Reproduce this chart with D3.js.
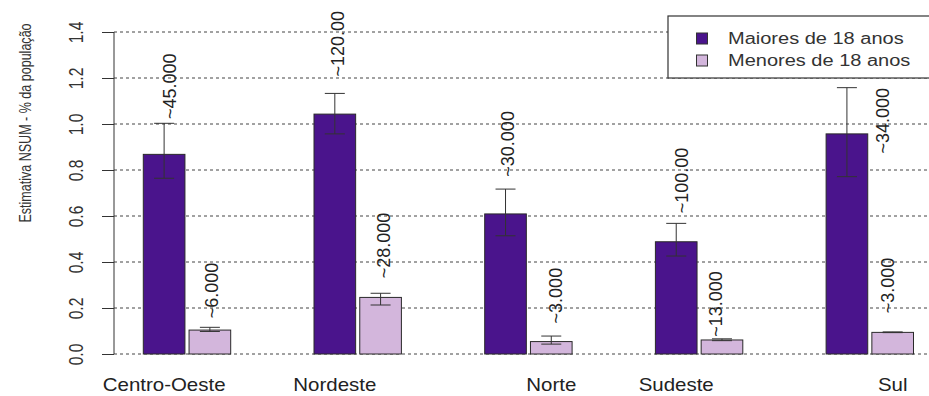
<!DOCTYPE html>
<html>
<head>
<meta charset="utf-8">
<script src="https://cdn.jsdelivr.net/npm/d3@7"></script>
<style>
  html, body { margin: 0; padding: 0; background: #fff; }
  svg { display: block; font-family: "Liberation Sans", Arial, sans-serif; }
</style>
</head>
<body>
<svg id="chart" width="929" height="396"></svg>
<script>
// ---- data ----
const categories = ["Centro-Oeste", "Nordeste", "Norte", "Sudeste", "Sul"];
const seriesNames = ["Maiores de 18 anos", "Menores de 18 anos"];
const maiores      = [0.868, 1.043, 0.609, 0.488, 0.957];
const maioresLower = [0.764, 0.957, 0.514, 0.426, 0.771];
const maioresUpper = [1.003, 1.133, 0.717, 0.568, 1.158];
const menores      = [0.104, 0.246, 0.054, 0.061, 0.094];
const menoresLower = [0.098, 0.213, 0.043, 0.058, 0.093];
const menoresUpper = [0.116, 0.264, 0.078, 0.066, 0.096];
const maioresLabels = ["~45.000", "~120.00", "~30.000", "~100.00", "~34.000"];
const menoresLabels = ["~6.000", "~28.000", "~3.000", "~13.000", "~3.000"];
// label anchors (data units, where each label text starts)
const maioresLabelY = [1.022, 1.206, 0.771, 0.612, 0.872];
const menoresLabelY = [0.155, 0.329, 0.133, 0.075, 0.177];
const yTicks = [0, 0.2, 0.4, 0.6, 0.8, 1.0, 1.2, 1.4];
// which bar each category name sits under (0 = Maiores, 1 = Menores)
const catLabelUnder = [0, 0, 1, 0, 1];

// ---- layout / style ----
const colors = ["#4a148c", "#d3b6dc"];
const labelDx = [[5.5, 1.7], [2.5, 2.5], [2.3, 3.8], [5, -6], [36, -5.3]];

const svg = d3.select("#chart");

const y = d3.scaleLinear().domain([0, 1.4]).range([354, 32]);
const x0 = d3.scaleBand().domain(categories).range([143.3, 913.5])
  .paddingInner(0.488).paddingOuter(0);
const x1 = d3.scaleBand().domain(seriesNames).range([0, x0.bandwidth()])
  .paddingInner(0.09).paddingOuter(0);

const rows = categories.map((c, i) => ({
  cat: c, i,
  vals: [
    { s: seriesNames[0], v: maiores[i], lo: maioresLower[i], hi: maioresUpper[i], lab: maioresLabels[i], ly: maioresLabelY[i], k: 0 },
    { s: seriesNames[1], v: menores[i], lo: menoresLower[i], hi: menoresUpper[i], lab: menoresLabels[i], ly: menoresLabelY[i], k: 1 }
  ]
}));

// gridlines
svg.append("g").selectAll("line").data(yTicks).join("line")
  .attr("x1", 114).attr("x2", 929)
  .attr("y1", d => y(d)).attr("y2", d => y(d))
  .attr("stroke", "#444").attr("stroke-width", 1)
  .attr("stroke-dasharray", "3,3");

// y axis
const yAxis = d3.axisLeft(y).tickValues(yTicks).tickFormat(d3.format(".1f")).tickSize(12).tickSizeOuter(0);
const gy = svg.append("g").attr("transform", "translate(114,0)").call(yAxis);
gy.select(".domain").attr("stroke", "#333").attr("d", `M0,${y(1.4)}V${y(0)}`);
gy.selectAll(".tick line").attr("stroke", "#333");
gy.selectAll(".tick text").remove();
gy.selectAll(".tick").append("text")
  .attr("transform", "translate(-31,0) rotate(-90) scale(0.78,1)")
  .attr("text-anchor", "middle")
  .attr("fill", "#333")
  .attr("font-size", 20)
  .text(d => d3.format(".1f")(d));

// y label
svg.append("text")
  .attr("transform", `translate(31,${123}) rotate(-90) scale(0.76,1)`)
  .attr("text-anchor", "middle")
  .attr("font-size", 16.5)
  .attr("fill", "#333")
  .text("Estimativa NSUM - % da população");

// bars
const groups = svg.append("g").selectAll("g").data(rows).join("g")
  .attr("transform", d => `translate(${x0(d.cat)},0)`);

groups.selectAll("rect").data(d => d.vals).join("rect")
  .attr("x", d => x1(d.s))
  .attr("y", d => y(d.v))
  .attr("width", x1.bandwidth())
  .attr("height", d => y(0) - y(d.v))
  .attr("fill", d => colors[d.k])
  .attr("stroke", "#2a2a2a").attr("stroke-width", 1);

// error bars
const eb = groups.selectAll("g.err").data(d => d.vals).join("g").attr("class", "err")
  .attr("transform", d => `translate(${x1(d.s) + x1.bandwidth() / 2},0)`);
eb.append("line").attr("x1", 0).attr("x2", 0)
  .attr("y1", d => y(d.lo)).attr("y2", d => y(d.hi))
  .attr("stroke", "#333").attr("stroke-width", 1);
eb.append("line").attr("x1", -10).attr("x2", 10)
  .attr("y1", d => y(d.hi)).attr("y2", d => y(d.hi))
  .attr("stroke", "#333").attr("stroke-width", 1);
eb.append("line").attr("x1", -10).attr("x2", 10)
  .attr("y1", d => y(d.lo)).attr("y2", d => y(d.lo))
  .attr("stroke", "#333").attr("stroke-width", 1);

// value labels
groups.each(function(d) {
  d3.select(this).selectAll("text.val").data(d.vals).join("text").attr("class", "val")
    .attr("transform", v => `translate(${x1(v.s) + x1.bandwidth() / 2 + labelDx[d.i][v.k] + 6.5},${y(v.ly)}) rotate(-90)`)
    .attr("text-anchor", "start")
    .attr("font-size", 18)
    .attr("fill", "#222")
    .text(v => v.lab);
});

// category labels
svg.append("g").selectAll("text").data(rows).join("text")
  .attr("transform", d => `translate(${x0(d.cat) + x1(seriesNames[catLabelUnder[d.i]]) + x1.bandwidth() / 2},391) scale(1.17,1)`)
  .attr("text-anchor", "middle")
  .attr("font-size", 17.5)
  .attr("fill", "#222")
  .text(d => d.cat);

// legend
const lg = svg.append("g");
lg.append("rect").attr("x", 668).attr("y", 16).attr("width", 300).attr("height", 62)
  .attr("fill", "#fff").attr("stroke", "#333").attr("stroke-width", 1.2);
const li = lg.selectAll("g").data(seriesNames).join("g")
  .attr("transform", (d, i) => `translate(0,${38.5 + i * 22})`);
li.append("rect").attr("x", 696.5).attr("y", -5.5).attr("width", 11).attr("height", 11)
  .attr("fill", (d, i) => colors[i]).attr("stroke", "#333").attr("stroke-width", 1);
li.append("text")
  .attr("transform", "translate(728,5.5) scale(1.25,1)")
  .attr("font-size", 16)
  .attr("fill", "#333")
  .text(d => d);
</script>
</body>
</html>
